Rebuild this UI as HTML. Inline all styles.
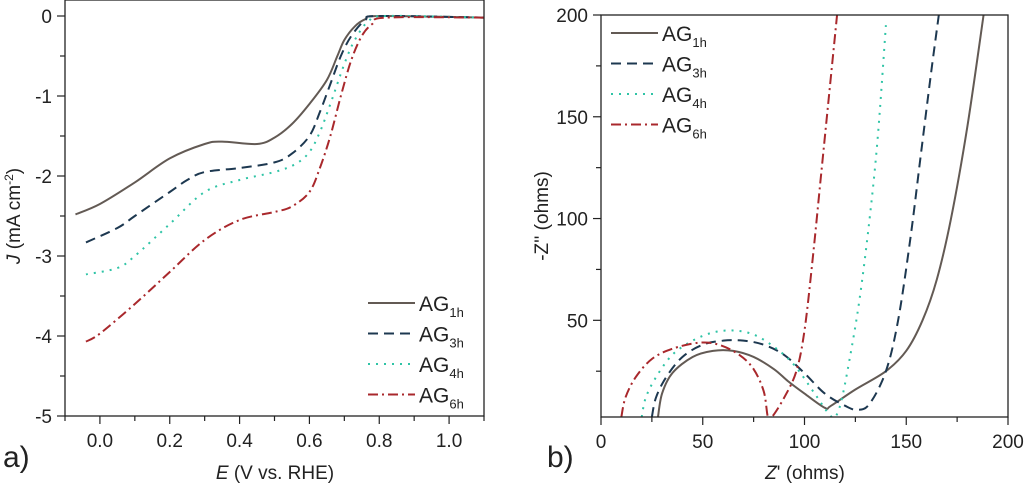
<!DOCTYPE html>
<html><head><meta charset="utf-8"><style>
body{margin:0;background:#fff;width:1024px;height:485px;overflow:hidden}
svg text{font-family:"Liberation Sans",sans-serif;fill:#222}
</style></head><body>
<svg id="svg" width="1024" height="485" xmlns="http://www.w3.org/2000/svg">
<g id="pa"></g>
<g id="pb"></g>
<text x="3" y="467" font-size="30">a)</text>
<text x="547" y="467" font-size="30">b)</text>
<text x="275" y="479" font-size="19" text-anchor="middle"><tspan font-style="italic">E</tspan> (V vs. RHE)</text>
<text transform="translate(20,216) rotate(-90)" font-size="19" text-anchor="middle"><tspan font-style="italic">J</tspan> (mA cm<tspan baseline-shift="super" font-size="12">-2</tspan>)</text>
<text x="805" y="479" font-size="19" text-anchor="middle"><tspan font-style="italic">Z</tspan>' (ohms)</text>
<text transform="translate(548,216) rotate(-90)" font-size="19" text-anchor="middle">-Z'' (ohms)</text>
</svg>
<script>
const names=["AG1h","AG3h","AG4h","AG6h"];
const colors=["#635a54","#1d3850","#2fc4a6","#a9282c"];
const dashes=["","10,6","2,6","10,4,2,4"];
const aTicksX=[0,0.2,0.4,0.6,0.8,1.0];
const aTicksY=[0,-1,-2,-3,-4,-5];
const bTicks=[0,50,100,150,200];
const a1h=[[-0.07,-2.48],[0,-2.35],[0.1,-2.08],[0.2,-1.78],[0.3,-1.6],[0.35,-1.57],[0.45,-1.6],[0.5,-1.52],[0.55,-1.35],[0.6,-1.1],[0.65,-0.8],[0.68,-0.5],[0.7,-0.3],[0.73,-0.13],[0.76,-0.04],[0.8,0],[1.1,-0.02]];
const a3h=[[-0.04,-2.83],[0.05,-2.65],[0.1,-2.5],[0.2,-2.2],[0.25,-2.05],[0.3,-1.95],[0.4,-1.9],[0.5,-1.83],[0.55,-1.72],[0.6,-1.5],[0.63,-1.2],[0.66,-0.85],[0.69,-0.5],[0.72,-0.25],[0.76,-0.05],[0.8,0],[1.1,-0.02]];
const a4h=[[-0.04,-3.23],[0.05,-3.15],[0.1,-3.0],[0.2,-2.6],[0.3,-2.2],[0.4,-2.05],[0.5,-1.95],[0.56,-1.85],[0.6,-1.7],[0.63,-1.45],[0.66,-1.1],[0.7,-0.6],[0.73,-0.3],[0.77,-0.06],[0.82,0],[1.1,-0.02]];
const a6h=[[-0.04,-4.07],[0,-3.97],[0.1,-3.6],[0.2,-3.2],[0.3,-2.8],[0.4,-2.55],[0.5,-2.45],[0.55,-2.38],[0.6,-2.2],[0.63,-1.9],[0.66,-1.5],[0.69,-1.0],[0.72,-0.55],[0.75,-0.25],[0.78,-0.1],[0.82,-0.02],[1.1,-0.02]];
const b1h=[[28,2.5],[30,14],[35,24],[45,32],[55,35],[65,35],[75,32],[85,26],[92,20],[100,14],[110,7],[113,8],[125,16],[140,25],[150,35],[158,50],[165,70],[172,100],[180,145],[188,200]];
const b3h=[[25,2.5],[27,12],[32,22],[40,32],[50,38],[60,40],[70,40],[80,38],[90,33],[100,24],[110,14],[120,8],[126,6],[132,9],[140,25],[146,50],[152,90],[157,130],[162,170],[166,200]];
const b4h=[[20,2.5],[22,12],[27,22],[35,33],[45,40],[55,44],[65,45],[75,43],[85,37],[95,28],[105,14],[112,4],[115,2.5],[118,10],[122,30],[127,60],[132,100],[136,140],[140,195]];
const b6h=[[10,2.5],[12,12],[17,22],[25,31],[35,36],[48,39],[58,38],[68,33],[75,26],[80,15],[82,2.5],[84,2.5],[90,12],[96,25],[100,45],[104,80],[108,120],[112,160],[116,200]];
const NS="http://www.w3.org/2000/svg";
function mk(p,t,at){const e=document.createElementNS(NS,t);for(const k in at)e.setAttribute(k,at[k]);p.appendChild(e);return e;}
function lin(d0,d1,r0,r1){return v=>r0+(v-d0)/(d1-d0)*(r1-r0);}
function smooth(pts){let d="M"+pts[0][0]+","+pts[0][1];for(let i=0;i<pts.length-1;i++){const p0=pts[i-1]||pts[i],p1=pts[i],p2=pts[i+1],p3=pts[i+2]||p2;d+=" C"+(p1[0]+(p2[0]-p0[0])/6)+","+(p1[1]+(p2[1]-p0[1])/6)+" "+(p2[0]-(p3[0]-p1[0])/6)+","+(p2[1]-(p3[1]-p1[1])/6)+" "+p2[0]+","+p2[1];}return d;}
function panel(g,L,T,R,B,sx,sy,series,xt,xminor,yt,yminor,fmtx,legX,legY,id){
  const clip=mk(g,"clipPath",{id:id});mk(clip,"rect",{x:L,y:T,width:R-L,height:B-T});
  series.forEach((s,i)=>{const p=mk(g,"path",{d:smooth(s.map(q=>[sx(q[0]),sy(q[1])])),fill:"none",stroke:colors[i],"stroke-width":2,"stroke-dasharray":dashes[i],"clip-path":"url(#"+id+")"});
    
    });
  const f=mk(g,"rect",{x:L,y:T,width:R-L,height:B-T,fill:"none",stroke:"#222","stroke-width":1.3});
  
  
  xminor.forEach(v=>{mk(g,"line",{x1:sx(v),x2:sx(v),y1:B,y2:B+5,stroke:"#222","stroke-width":1.2});});
  xt.forEach(v=>{mk(g,"line",{x1:sx(v),x2:sx(v),y1:B,y2:B+8,stroke:"#222","stroke-width":1.2});
    const t=mk(g,"text",{x:sx(v),y:B+31,"font-size":19,"text-anchor":"middle"});t.textContent=fmtx(v);
    
    });
  yminor.forEach(v=>{mk(g,"line",{x1:L-5,x2:L,y1:sy(v),y2:sy(v),stroke:"#222","stroke-width":1.2});});
  yt.forEach(v=>{mk(g,"line",{x1:L-8,x2:L,y1:sy(v),y2:sy(v),stroke:"#222","stroke-width":1.2});
    const t=mk(g,"text",{x:L-13,y:sy(v)+7,"font-size":19,"text-anchor":"end"});t.textContent=String(v);
    
    });
  names.forEach((n,i)=>{const y=legY+i*30.5;
    const lg=mk(g,"g",{});
    
    
    mk(lg,"line",{x1:legX,x2:legX+47,y1:y,y2:y,stroke:colors[i],"stroke-width":2,"stroke-dasharray":dashes[i]});
    const t=mk(lg,"text",{x:legX+51,y:y+8,"font-size":21});t.textContent="AG";
    const s=mk(t,"tspan",{"font-size":13,dy:6});s.textContent=n.slice(2);});
}
const axa=lin(-0.1,1.1,65,484),aya=lin(0.2,-5,0,416);
const mA=[];for(let v=-0.1;v<1.15;v+=0.2)mA.push(+v.toFixed(1));
const mAy=[];for(let v=-0.5;v>-5;v-=1)mAy.push(v);
panel(document.getElementById("pa"),65,0,484,416,axa,aya,[a1h,a3h,a4h,a6h],aTicksX,mA,aTicksY,mAy,v=>v.toFixed(1),368,303,"ca");
const bx=lin(0,200,601,1008),by=lin(200,2.5,15,417);
panel(document.getElementById("pb"),601,15,1008,417,bx,by,[b1h,b3h,b4h,b6h],bTicks,[25,75,125,175],[50,100,150,200],[25,75,125,175],v=>String(v),611,33,"cb");
</script>
</body></html>
